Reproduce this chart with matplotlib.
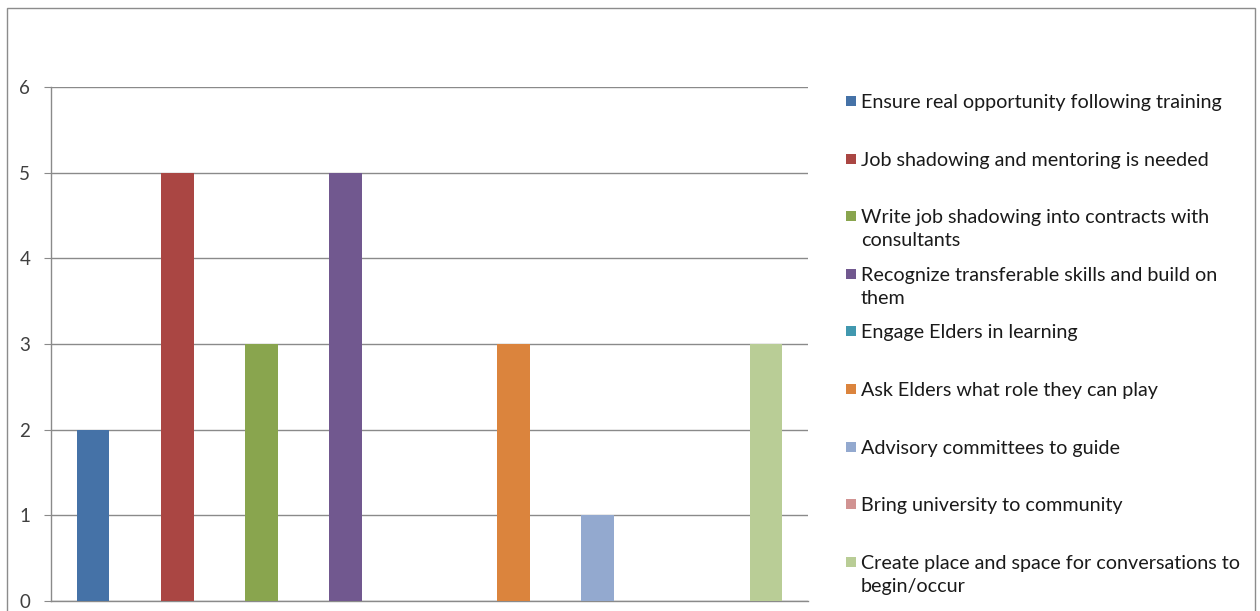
import numpy as np
import matplotlib.pyplot as plt
from matplotlib.patches import Rectangle

# 各项建议及票数
labels = ['Ensure real opportunity following training',
          'Job shadowing and mentoring is needed',
          'Write job shadowing into contracts with\nconsultants',
          'Recognize transferable skills and build on\nthem',
          'Engage Elders in learning',
          'Ask Elders what role they can play',
          'Advisory committees to guide',
          'Bring university to community',
          'Create place and space for conversations to\nbegin/occur']
votes = [2, 5, 3, 5, 0, 3, 1, 0, 3]
colors = ['#4572A7', '#AA4643', '#89A54E', '#71588F', '#4198AF',
          '#DB843D', '#93A9CF', '#D19392', '#B9CD96']
yticks = [0, 1, 2, 3, 4, 5, 6]

W, H = 1260, 611
fig = plt.figure(figsize=(W / 100, H / 100), dpi=100)

# 外边框
fig.patches.append(Rectangle((7 / W, -0.05), 1248 / W, 1.05 - 8 / H,
                             transform=fig.transFigure, fill=False,
                             edgecolor='#8c8c8c', linewidth=1.0))

ax = fig.add_axes([51 / W, 1 - 601 / H, 757 / W, 514 / H])
x = np.arange(len(votes))
ax.bar(x, votes, width=0.39, color=colors, zorder=3)

ax.set_xlim(-0.5, len(votes) - 0.5)
ax.set_ylim(0, 6)
ax.set_yticks(yticks)
ax.set_xticks([])
ax.grid(axis='y', color='#8a8a8a', linewidth=1.0, zorder=0)
for s in ['top', 'right']:
    ax.spines[s].set_visible(False)
for s in ['left', 'bottom']:
    ax.spines[s].set_color('#8a8a8a')
    ax.spines[s].set_linewidth(1.0)
ax.tick_params(axis='y', length=5, color='#8a8a8a', labelcolor='#404040',
               labelsize=13.5, pad=10)
for t in ax.get_yticklabels():
    t.set_family('Lato')

# 图例（手动排布，每项固定间距）
y0 = 101
step = 57.6
for i, (lab, c) in enumerate(zip(labels, colors)):
    yc = y0 + i * step
    fig.patches.append(Rectangle((846 / W, 1 - (yc + 5) / H), 10 / W, 10 / H,
                                 transform=fig.transFigure, facecolor=c,
                                 edgecolor='none'))
    fig.text(861 / W, 1 - (yc - 7) / H, lab, ha='left', va='top',
             fontsize=14.2, family='Lato', color='#1a1a1a', linespacing=1.45)

plt.savefig('out.png', dpi=100)
